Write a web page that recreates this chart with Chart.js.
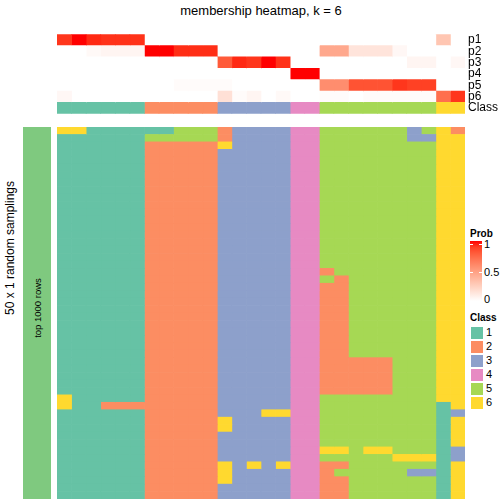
<!DOCTYPE html>
<html>
<head>
<meta charset="utf-8">
<script src="https://cdn.jsdelivr.net/npm/chart.js@4.4.1/dist/chart.umd.min.js"></script>
<style>
  body { margin: 0; background: #fff; font-family: "Liberation Sans", Arial, sans-serif; }
  #wrap { position: relative; width: 504px; height: 504px; overflow: hidden; }
  .abs { position: absolute; }
  #title { left: 0; width: 522px; top: 3px; text-align: center; font-size: 13px; }
  #rowTitle { left: 10px; top: 248px; font-size: 12px; white-space: nowrap; transform: translate(-50%, -50%) rotate(-90deg); }
  #strip { left: 23px; top: 127px; width: 28px; height: 372px; background: #7FC97F; }
  #stripText { left: 37px; top: 308px; font-size: 9.5px; white-space: nowrap; transform: translate(-50%, -50%) rotate(-90deg); }
  .lgTitle { font-size: 10px; font-weight: bold; }
  .lgLab { font-size: 11px; }
  .sq { width: 12px; height: 12px; border: 1px solid #fff; }
</style>
</head>
<body>
<div id="wrap">
  <div id="title" class="abs">membership heatmap, k = 6</div>
  <div id="rowTitle" class="abs">50 x 1 random samplings</div>
  <div id="strip" class="abs"></div>
  <div id="stripText" class="abs">top 1000 rows</div>
  <canvas id="topChart" class="abs" width="447" height="100" style="left:57px;top:24px"></canvas>
  <canvas id="mainChart" class="abs" width="408" height="372" style="left:57px;top:127px"></canvas>
  <div id="legend" class="abs" style="left:470px;top:228px;width:34px;height:200px"></div>
</div>
<script>
// classes of the 28 columns
var colClass = [1,1,1,1,1,1,2,2,2,2,2,3,3,3,3,3,4,4,5,5,5,5,5,5,5,5,6,6];
var classColors = ['#66C2A5', '#FC8D62', '#8DA0CB', '#E78AC3', '#A6D854', '#FFD92F'];
var classNames = ['1', '2', '3', '4', '5', '6'];
var topLabels = ['p1', 'p2', 'p3', 'p4', 'p5', 'p6', 'Class'];

// membership probabilities per column
var p1 = [0.92,1,0.95,0.93,0.93,0.93, 0,0,0,0,0, 0,0,0,0,0, 0,0, 0,0,0,0,0,0,0,0, 0.3,0];
var p2 = [0,0,0.03,0.05,0.05,0.05, 1,1,0.94,0.94,0.94, 0,0,0,0,0, 0,0, 0.45,0.45,0.14,0.14,0.14,0.04,0,0, 0,0];
var p3 = [0,0,0,0,0,0, 0,0,0,0,0, 0.8,0.95,0.92,1,0.93, 0,0, 0,0,0,0,0,0,0.05,0.05, 0,0.04];
var p4 = [0,0,0,0,0,0, 0,0,0,0,0, 0,0,0,0,0, 1,1, 0,0,0,0,0,0,0,0, 0,0];
var p5 = [0,0,0,0,0,0, 0,0,0.02,0.02,0.02, 0.02,0,0,0,0, 0,0, 0.58,0.58,0.83,0.83,0.83,0.92,0.89,0.89, 0,0];
var p6 = [0.04,0,0,0,0,0, 0,0,0,0,0, 0.16,0.02,0.05,0,0.03, 0,0, 0.02,0.02,0,0.02,0.02,0.02,0.02,0.02, 0.72,0.92];

// class calls of each of the 50 samplings (one char per column)
var samplings = [
  '6611111155523333445555553562',
  '1111115555523333445555553366',
  '1111112222263333445555555566',
  '1111112222233333445555555566',
  '1111112222233333445555555566',
  '1111112222233333445555555566',
  '1111112222233333445555555566',
  '1111112222233333445555555566',
  '1111112222233333445555555566',
  '1111112222233333445555555566',
  '1111112222233333445555555566',
  '1111112222233333445555555566',
  '1111112222233333445555555566',
  '1111112222233333445555555566',
  '1111112222233333445555555566',
  '1111112222233333445555555566',
  '1111112222233333445555555566',
  '1111112222233333445555555566',
  '1111112222233333445555555566',
  '1111112222233333442555555566',
  '1111112222233333445255555566',
  '1111112222233333442255555566',
  '1111112222233333442255555566',
  '1111112222233333442255555566',
  '1111112222233333442255555566',
  '1111112222233333442255555566',
  '1111112222233333442255555566',
  '1111112222233333442255555566',
  '1111112222233333442255555566',
  '1111112222233333442255555566',
  '1111112222233333442255555566',
  '1111112222233333442222255566',
  '1111112222233333442222255566',
  '1111112222233333442222255566',
  '1111112222233333442222255566',
  '1111112222233333442222255566',
  '6111112222233333445555555566',
  '6112222222233333445555555516',
  '1111112222233366445555555513',
  '1111112222263333445555555516',
  '1111112222263333445555555516',
  '1111112222233333445555555516',
  '1111112222233333445555555516',
  '1111112222233333446656655513',
  '1111112222233333445555566613',
  '1111112222263636442255555516',
  '1111112222263333442555553316',
  '1111112222263333442255555516',
  '1111112222233333442255555516',
  '1111112222233333442255555516'
];

// white -> red ramp interpolated in Lab space
function toLin(c) { c = c / 255; return c <= 0.04045 ? c / 12.92 : Math.pow((c + 0.055) / 1.055, 2.4); }
function fromLin(c) { c = c <= 0.0031308 ? 12.92 * c : 1.055 * Math.pow(c, 1 / 2.4) - 0.055; return Math.round(Math.max(0, Math.min(1, c)) * 255); }
function f(t) { return t > 0.008856 ? Math.cbrt(t) : 7.787 * t + 16 / 116; }
function fi(t) { return t > 0.206893 ? t * t * t : (t - 16 / 116) / 7.787; }
function rgb2lab(rgb) {
  var r = toLin(rgb[0]), g = toLin(rgb[1]), b = toLin(rgb[2]);
  var x = (0.4124 * r + 0.3576 * g + 0.1805 * b) / 0.95047;
  var y = 0.2126 * r + 0.7152 * g + 0.0722 * b;
  var z = (0.0193 * r + 0.1192 * g + 0.9505 * b) / 1.08883;
  return [116 * f(y) - 16, 500 * (f(x) - f(y)), 200 * (f(y) - f(z))];
}
function lab2rgb(lab) {
  var fy = (lab[0] + 16) / 116, fx = fy + lab[1] / 500, fz = fy - lab[2] / 200;
  var x = fi(fx) * 0.95047, y = fi(fy), z = fi(fz) * 1.08883;
  var r = 3.2406 * x - 1.5372 * y - 0.4986 * z;
  var g = -0.9689 * x + 1.8758 * y + 0.0415 * z;
  var b = 0.0557 * x - 0.2040 * y + 1.0570 * z;
  return 'rgb(' + fromLin(r) + ',' + fromLin(g) + ',' + fromLin(b) + ')';
}
var labW = rgb2lab([255, 255, 255]);
var labR = rgb2lab([255, 0, 0]);
function probColor(v) {
  return lab2rgb([0, 1, 2].map(function (i) { return labW[i] + (labR[i] - labW[i]) * v; }));
}

var probRows = [p1, p2, p3, p4, p5, p6];

// top annotation: one dataset per column
var topSets = [];
for (var c = 0; c < colClass.length; c++) {
  var cols = [];
  var spans = [];
  for (var r = 0; r < 6; r++) {
    cols.push(probColor(probRows[r][c]));
    spans.push([c, c + 1]);
  }
  cols.push(classColors[colClass[c] - 1]);
  spans.push([c, c + 1]);
  topSets.push({ data: spans, backgroundColor: cols, borderWidth: 0, grouped: false,
    barPercentage: 1, categoryPercentage: 1 });
}

new Chart(document.getElementById('topChart'), {
  type: 'bar',
  data: { labels: topLabels, datasets: topSets },
  options: {
    indexAxis: 'y',
    responsive: false,
    animation: false,
    layout: { padding: 0 },
    plugins: { legend: { display: false }, tooltip: { enabled: false } },
    scales: {
      x: { type: 'linear', min: 0, max: colClass.length, display: false },
      y: {
        position: 'right',
        grid: { display: false, drawTicks: false },
        border: { display: false },
        ticks: { color: '#000', padding: 3, autoSkip: false, font: { family: 'Liberation Sans', size: 12 } },
        afterFit: function (s) { s.width = 39; }
      }
    }
  }
});

// main heatmap: one dataset per column, one bar per sampling
var rowLabels = samplings.map(function (s, i) { return String(i + 1); });
var mainSets = [];
for (var c2 = 0; c2 < colClass.length; c2++) {
  var cc = [];
  var sp = [];
  for (var r2 = 0; r2 < samplings.length; r2++) {
    cc.push(classColors[parseInt(samplings[r2][c2], 10) - 1]);
    sp.push([c2, c2 + 1]);
  }
  mainSets.push({ data: sp, backgroundColor: cc, borderWidth: 0, grouped: false,
    barPercentage: 1, categoryPercentage: 1 });
}

new Chart(document.getElementById('mainChart'), {
  type: 'bar',
  data: { labels: rowLabels, datasets: mainSets },
  options: {
    indexAxis: 'y',
    responsive: false,
    animation: false,
    layout: { padding: 0 },
    plugins: { legend: { display: false }, tooltip: { enabled: false } },
    scales: {
      x: { type: 'linear', min: 0, max: colClass.length, display: false },
      y: { display: false }
    }
  }
});

// legends
var lg = document.getElementById('legend');
var html = '<div class="abs lgTitle" style="left:0;top:0">Prob</div>';
var stops = [];
for (var k = 0; k <= 10; k++) stops.push(probColor(1 - k / 10) + ' ' + (k * 10) + '%');
html += '<div class="abs" style="left:0;top:13px;width:12px;height:60px;background:linear-gradient(' + stops.join(',') + ')"></div>';
html += '<div class="abs" style="left:0;top:16px;width:3px;height:1px;background:#fff"></div>';
html += '<div class="abs" style="left:9px;top:16px;width:3px;height:1px;background:#fff"></div>';
html += '<div class="abs" style="left:0;top:44px;width:3px;height:1px;background:#fff"></div>';
html += '<div class="abs" style="left:9px;top:44px;width:3px;height:1px;background:#fff"></div>';
html += '<div class="abs lgLab" style="left:14px;top:10px">1</div>';
html += '<div class="abs lgLab" style="left:14px;top:38px">0.5</div>';
html += '<div class="abs lgLab" style="left:14px;top:65px">0</div>';
html += '<div class="abs lgTitle" style="left:0;top:84px">Class</div>';
for (var q = 0; q < classNames.length; q++) {
  html += '<div class="abs sq" style="left:0;top:' + (98 + q * 14) + 'px;background:' + classColors[q] + '"></div>';
  html += '<div class="abs lgLab" style="left:16px;top:' + (98 + q * 14) + 'px">' + classNames[q] + '</div>';
}
lg.innerHTML = html;
</script>
</body>
</html>
